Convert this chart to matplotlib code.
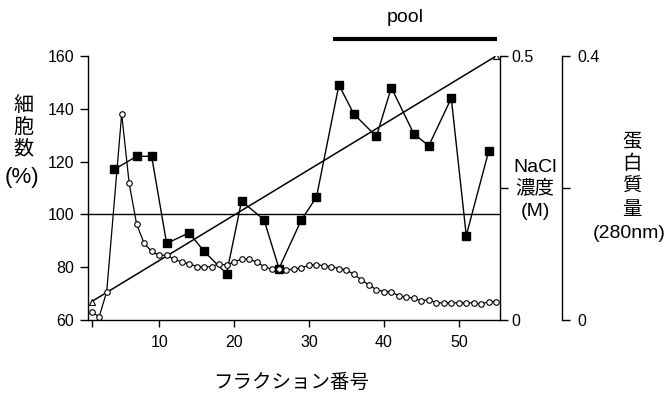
import matplotlib.pyplot as plt

plt.rcParams['font.family'] = ['Liberation Sans', 'Noto Sans CJK JP', 'DejaVu Sans']

# 細胞数 (%) : filled squares
cell_x = [4, 7, 9, 11, 14, 16, 19, 21, 24, 26, 29, 31, 34, 36, 39, 41, 44, 46, 49, 51, 54]
cell_y = [117, 122, 122, 89, 93, 86, 77.5, 105, 98, 79.5, 98, 106.5,
          149, 138, 129.5, 148, 130.5, 126, 144, 92, 124]

# 蛋白質量 (280nm) : open circles
prot_x = [1, 2, 3] + list(range(5, 56))
prot_y = [0.012, 0.005, 0.043, 0.312, 0.207, 0.145, 0.116, 0.104, 0.098, 0.098,
          0.092, 0.088, 0.085, 0.081, 0.080, 0.081, 0.085, 0.083, 0.088, 0.092,
          0.092, 0.088, 0.081, 0.077, 0.077, 0.076, 0.077, 0.079, 0.083, 0.084,
          0.082, 0.081, 0.078, 0.076, 0.069, 0.061, 0.053, 0.046, 0.043, 0.043,
          0.036, 0.035, 0.033, 0.029, 0.031, 0.026, 0.026, 0.026, 0.026, 0.026,
          0.026, 0.024, 0.028, 0.028]

# NaCl gradient (M)
nacl_x = [1, 55]
nacl_y = [0.035, 0.5]

pool_range = [33.2, 55.1]

xticks = [1, 10, 20, 30, 40, 50]
xtick_labels = ['', '10', '20', '30', '40', '50']

W, H = 666, 397
fig = plt.figure(figsize=(W / 100, H / 100), dpi=100)
ax = fig.add_axes([0.1321, 0.194, 0.6186, 0.665])
ax2 = ax.twinx()
ax3 = ax.twinx()

# left axis: cell number
ax.set_xlim(0.5, 55.5)
ax.set_ylim(60, 160)
ax.set_yticks([60, 80, 100, 120, 140, 160])
ax.set_xticks(xticks)
ax.set_xticklabels(xtick_labels)
ax.tick_params(axis='y', direction='out', length=6, width=1, pad=4, labelsize=11.5)
ax.tick_params(axis='x', direction='out', length=5, width=1, pad=6, labelsize=11.5)
ax.spines['top'].set_visible(False)
ax.spines['right'].set_visible(False)
for s in ['left', 'bottom']:
    ax.spines[s].set_linewidth(1)
ax.axhline(100, color='black', lw=1, zorder=1)
ax.plot(cell_x, cell_y, color='black', lw=1, marker='s', ms=5.5,
        mfc='black', mec='black', zorder=4)

# right axis: NaCl
ax2.set_ylim(0, 0.5)
ax2.set_yticks([0, 0.25, 0.5])
ax2.set_yticklabels(['0', '', '0.5'])
ax2.tick_params(axis='y', direction='out', length=6, width=1, pad=2, labelsize=11.5)
for s in ['top', 'left', 'bottom']:
    ax2.spines[s].set_visible(False)
ax2.spines['right'].set_linewidth(1)
ax2.plot(nacl_x, nacl_y, color='black', lw=1.1, marker='^', ms=4.5,
         mfc='white', mec='black', mew=0.8, zorder=3)

# outer right axis: protein
ax3.set_ylim(0, 0.4)
ax3.set_yticks([0, 0.2, 0.4])
ax3.set_yticklabels(['0', '', '0.4'])
ax3.spines['right'].set_position(('axes', 1.15))
for s in ['top', 'left', 'bottom']:
    ax3.spines[s].set_visible(False)
ax3.spines['right'].set_linewidth(1)
ax3.tick_params(axis='y', direction='out', length=6, width=1, pad=5, labelsize=11.5)
ax3.plot(prot_x, prot_y, color='black', lw=0.9, marker='o', ms=4,
         mfc='white', mec='black', mew=0.8, zorder=5)

# pool bar above the plot
ax.plot(pool_range, [166.4, 166.4], color='black', lw=3, clip_on=False,
        solid_capstyle='butt')
ax.text(42.8, 174.5, 'pool', ha='center', va='center',
        fontsize=14, clip_on=False)


def stack(px, rows, size=14, color='black'):
    # vertical label, one line per (text, pixel-y) pair
    for txt, py in rows:
        fig.text(px / W, 1 - py / H, txt, ha='center', va='center',
                 fontsize=size, color=color)


stack(23, [('細', 106), ('胞', 127.5), ('数', 149)], size=14.5)
stack(22, [('(%)', 177)], size=16)
stack(535, [('NaCl', 167.5), ('濃度', 188.5), ('(M)', 211)], size=14)
stack(632, [('蛋', 142.5), ('白', 164), ('質', 187.5), ('量', 211)], size=14)
stack(629, [('(280nm)', 233.5)], size=14)
stack(291, [('フラクション番号', 383)], size=14)

fig.savefig('out.png', dpi=100)
